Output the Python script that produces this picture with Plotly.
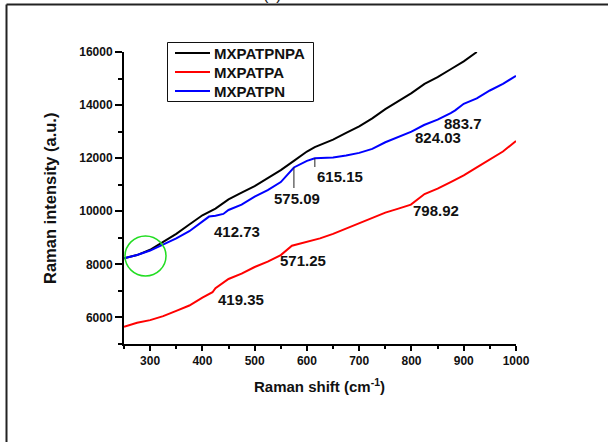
import plotly.graph_objects as go

# Raman spectra (shift in cm^-1, intensity in a.u.)
shift_mxpatpnpa = [250, 275, 300, 325, 350, 375, 400, 425, 450, 475, 500, 525, 550, 575,
                   600, 615, 650, 675, 700, 725, 750, 775, 800, 825, 850, 875, 900, 925]
int_mxpatpnpa = [8230, 8350, 8550, 8850, 9150, 9500, 9850, 10100, 10450, 10700, 10950, 11250,
                 11550, 11900, 12250, 12420, 12700, 12950, 13200, 13500, 13850, 14150, 14450,
                 14800, 15050, 15350, 15650, 16000]

shift_mxpatpa = [250, 275, 300, 325, 350, 375, 400, 419.35, 425, 450, 475, 500, 525, 550,
                 571.25, 600, 625, 650, 675, 700, 725, 750, 775, 798.92, 825, 850, 875, 900,
                 925, 950, 975, 1000]
int_mxpatpa = [5650, 5800, 5900, 6050, 6250, 6450, 6750, 6950, 7100, 7450, 7650, 7900, 8100,
               8350, 8700, 8850, 8980, 9150, 9350, 9550, 9780, 9950, 10100, 10250, 10650,
               10850, 11100, 11350, 11650, 11950, 12250, 12650]

shift_mxpatpn = [250, 275, 300, 325, 350, 375, 400, 412.73, 425, 440, 450, 475, 500, 525, 550,
                 575.09, 600, 615.15, 650, 675, 700, 725, 750, 775, 800, 824.03, 850, 875,
                 883.7, 900, 925, 950, 975, 1000]
int_mxpatpn = [8230, 8350, 8520, 8750, 8980, 9250, 9600, 9800, 9830, 9900, 10050, 10250, 10550,
               10800, 11100, 11650, 11900, 12000, 12030, 12100, 12200, 12350, 12600, 12800,
               13000, 13250, 13450, 13700, 13800, 14050, 14250, 14550, 14800, 15100]

series_names = ["MXPATPNPA", "MXPATPA", "MXPATPN"]
series_colors = ["#000000", "#ff0000", "#0000ff"]

# Peak labels
peak_labels = ["412.73", "419.35", "571.25", "575.09", "615.15", "798.92", "824.03", "883.7"]

# plot area geometry (px)
L, R, T, B = 124, 92, 52, 98
W, H = 608, 442
PW, PH = W - L - R, H - T - B
XR = (250, 1000)
YR = (5000, 16000)

FONT = "Liberation Sans, Arial, sans-serif"


def px2x(px):
    return XR[0] + (px - L) / PW * (XR[1] - XR[0])


def py2y(py):
    return YR[1] - (py - T) / PH * (YR[1] - YR[0])


def paper_x(px):
    return (px - L) / PW


def paper_y(py):
    return (H - B - py) / PH


fig = go.Figure()
for xs, ys, name, color in zip([shift_mxpatpnpa, shift_mxpatpa, shift_mxpatpn],
                               [int_mxpatpnpa, int_mxpatpa, int_mxpatpn],
                               series_names, series_colors):
    fig.add_trace(go.Scatter(x=xs, y=ys, mode="lines", name=name, showlegend=False,
                             line=dict(color=color, width=2)))

label_font = dict(family=FONT, size=15, color="#111111", weight="bold")
label_px = [(237, 231), (241, 299), (303, 260), (297, 198), (340, 176), (436, 210), (438, 137), (463, 123)]
annotations = []
for text, (lx, ly) in zip(peak_labels, label_px):
    annotations.append(dict(x=px2x(lx), y=py2y(ly), xref="x", yref="y", text=text,
                            showarrow=False, font=label_font, xanchor="center", yanchor="middle"))

# axis titles
annotations.append(dict(x=paper_x(319), y=paper_y(385), xref="paper", yref="paper",
                        text="Raman shift (cm<sup>-1</sup>)", showarrow=False,
                        font=dict(family=FONT, size=15, color="#111111", weight="bold"),
                        xanchor="center", yanchor="middle"))
annotations.append(dict(x=paper_x(50), y=paper_y(199), xref="paper", yref="paper",
                        text="Raman intensity (a.u.)", showarrow=False, textangle=-90,
                        font=dict(family=FONT, size=16.5, color="#111111", weight="bold"),
                        xanchor="center", yanchor="middle"))
# panel letter at the top edge
annotations.append(dict(x=paper_x(272), y=paper_y(5), xref="paper", yref="paper",
                        text="(c)", showarrow=False,
                        font=dict(family=FONT, size=16, color="#111111"),
                        xanchor="center", yanchor="bottom"))

shapes = [
    # peak marker ticks on the MXPATPN curve
    dict(type="line", xref="x", yref="y", x0=575.09, x1=575.09, y0=11650, y1=py2y(188),
         line=dict(color="#222222", width=1)),
    dict(type="line", xref="x", yref="y", x0=615.15, x1=615.15, y0=12000, y1=py2y(167),
         line=dict(color="#222222", width=1)),
    # highlighted region
    dict(type="circle", xref="x", yref="y", x0=px2x(125), x1=px2x(166), y0=py2y(276), y1=py2y(236),
         line=dict(color="#22dd22", width=1.5)),
    # outer frame
    dict(type="line", xref="paper", yref="paper", x0=paper_x(6.5), x1=paper_x(620),
         y0=paper_y(4.5), y1=paper_y(4.5), line=dict(color="#222222", width=2)),
    dict(type="line", xref="paper", yref="paper", x0=paper_x(6.5), x1=paper_x(6.5),
         y0=paper_y(4.5), y1=paper_y(460), line=dict(color="#222222", width=2)),
    # legend box
    dict(type="rect", xref="paper", yref="paper", x0=paper_x(167.5), x1=paper_x(313.5),
         y0=paper_y(42.5), y1=paper_y(101.5), line=dict(color="#111111", width=1),
         fillcolor="rgba(255,255,255,0)"),
]

# legend entries
legend_rows = [53, 72, 91]
for name, color, row in zip(series_names, series_colors, legend_rows):
    shapes.append(dict(type="line", xref="paper", yref="paper", x0=paper_x(175), x1=paper_x(210),
                       y0=paper_y(row), y1=paper_y(row), line=dict(color=color, width=2)))
    annotations.append(dict(x=paper_x(212), y=paper_y(row), xref="paper", yref="paper",
                            text=name, showarrow=False, xanchor="left", yanchor="middle",
                            font=dict(family=FONT, size=15, color="#111111", weight="bold")))

tick_font = dict(family=FONT, size=12, color="#111111", weight="bold")

fig.update_layout(
    width=W, height=H,
    margin=dict(l=L, r=R, t=T, b=B),
    paper_bgcolor="white", plot_bgcolor="white",
    showlegend=False,
    annotations=annotations,
    shapes=shapes,
    xaxis=dict(range=list(XR), showgrid=False, zeroline=False, showline=True, linecolor="#000000",
               linewidth=2, ticks="outside", ticklen=5, tickwidth=1.5, tickcolor="#000000",
               dtick=100, tick0=0, tickfont=tick_font, tickformat="d",
               minor=dict(dtick=50, tick0=0, ticks="outside", ticklen=3, tickwidth=1.5,
                          tickcolor="#000000", showgrid=False)),
    yaxis=dict(range=list(YR), showgrid=False, zeroline=False, showline=True, linecolor="#000000",
               linewidth=2, ticks="outside", ticklen=7, tickwidth=1.5, tickcolor="#000000",
               dtick=2000, tick0=0, tickfont=tick_font, tickformat="d",
               minor=dict(dtick=1000, tick0=0, ticks="outside", ticklen=4, tickwidth=1.5,
                          tickcolor="#000000", showgrid=False)),
)

fig.write_html("out.html")
